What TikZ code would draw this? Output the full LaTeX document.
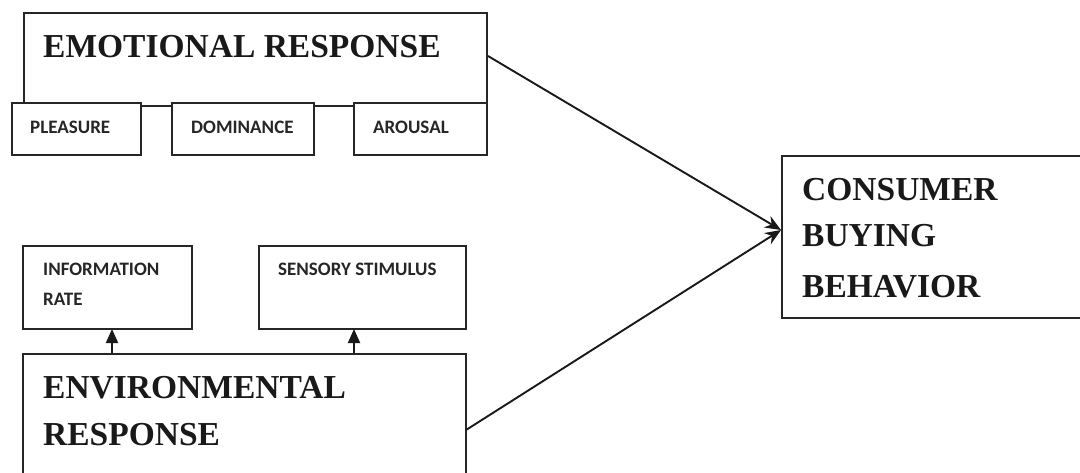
\documentclass[tikz,border=0pt]{standalone}
\usepackage{fontspec}
\setmainfont{Liberation Serif}
\newfontfamily\carl{Carlito}
\usetikzlibrary{arrows.meta,calc}
\begin{document}
\begin{tikzpicture}[x=1pt,y=-1pt,
  box/.style={draw=black!85, line width=2.4pt, fill=white, inner sep=0pt, outer sep=0pt, anchor=north west},
  big/.style={anchor=base west, inner sep=0pt, font=\fontsize{33.5}{36}\selectfont\bfseries, text=black!90},
  small/.style={anchor=base west, inner sep=0pt, font=\carl\fontsize{19}{22}\selectfont\bfseries, text=black!85},
  conn/.style={draw=black!90, line width=1.9pt},
  uparrow/.style={conn, -{Triangle[length=14pt,width=12pt]}},
  convarrow/.style={conn, -{Stealth[length=16pt,width=13pt]}}]
\useasboundingbox (0,0) rectangle (1080,472);
% emotional response
\node[box, minimum width=463pt, minimum height=93pt] (emo) at (24,13) {};
\node[box, minimum width=129pt, minimum height=52pt] (plea) at (12,103) {};
\node[box, minimum width=142pt, minimum height=52pt] (domi) at (172,103) {};
\node[box, minimum width=133pt, minimum height=52pt] (arou) at (354,103) {};
\node[big] (emot) at (43,57) {EMOTIONAL RESPONSE};
\node[small] (pleat) at (30,133) {PLEASURE};
\node[small] (domit) at (191,133) {DOMINANCE};
\node[small] (arout) at (373,133) {AROUSAL};
% environmental
\node[box, minimum width=169pt, minimum height=83pt] (info) at (23,246) {};
\node[box, minimum width=207pt, minimum height=83pt] (sens) at (259,246) {};
\node[box, minimum width=443pt, minimum height=152pt] (env) at (23,354) {};
\node[small] (infot1) at (43,275) {INFORMATION};
\node[small] (infot2) at (43,305) {RATE};
\node[small] (senst) at (278,275) {SENSORY STIMULUS};
\node[big] (envt1) at (43,398) {ENVIRONMENTAL};
\node[big] (envt2) at (43,445) {RESPONSE};
% consumer
\node[box, minimum width=310pt, minimum height=162pt] (cons) at (782,156) {};
\node[big] (const1) at (802,200) {CONSUMER};
\node[big] (const2) at (802,246) {BUYING};
\node[big] (const3) at (802,297) {BEHAVIOR};
% connectors
\coordinate (tgt) at (781,230);
\coordinate (emoout) at (488,56);
\draw[convarrow] (emoout) -- (tgt);
\draw[convarrow] (env.east) -- (tgt);
\coordinate (a1) at (112,353);
\coordinate (a2) at (354,353);
\draw[uparrow] (a1) -- (a1 |- info.south);
\draw[uparrow] (a2) -- (a2 |- sens.south);
\end{tikzpicture}
\end{document}
